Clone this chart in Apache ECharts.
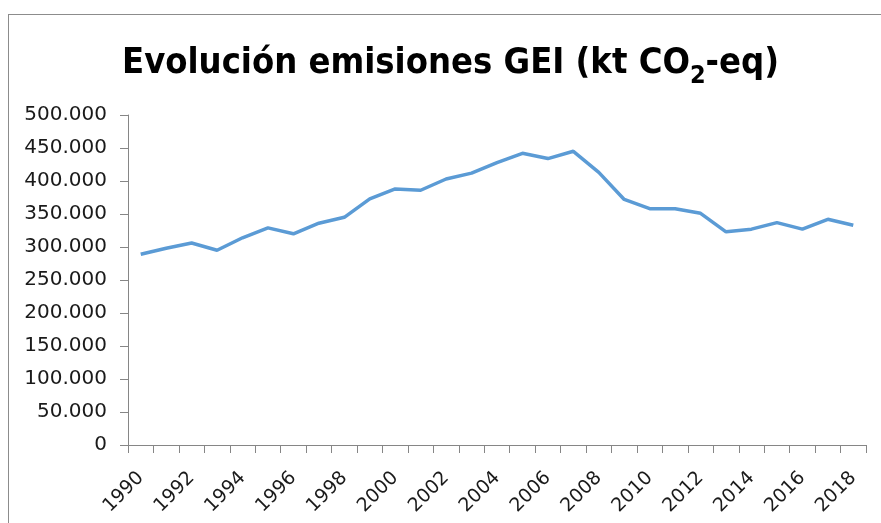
<!DOCTYPE html>
<html>
<head>
<meta charset="utf-8">
<script src="https://cdn.jsdelivr.net/npm/echarts@6/dist/echarts.min.js"></script>
<style>
  html, body { margin: 0; padding: 0; background: #fff; }
  #chart { position: absolute; left: 0; top: 0; width: 881px; height: 523px; }
  #frame { position: absolute; left: 8px; top: 14px; right: 0; bottom: 0;
           border-top: 1px solid #8c8c8c; border-left: 1px solid #8c8c8c; pointer-events: none; }
</style>
</head>
<body>
<div id="chart"></div>
<div id="frame"></div>
<script>
// years 1990-2018
var years = ['1990', '1991', '1992', '1993', '1994', '1995', '1996', '1997', '1998', '1999',
  '2000', '2001', '2002', '2003', '2004', '2005', '2006', '2007', '2008', '2009',
  '2010', '2011', '2012', '2013', '2014', '2015', '2016', '2017', '2018'];

// kt CO2-eq
var emisiones = [289000, 298000, 306000, 295000, 314000, 329000, 320000, 336000, 345000, 373000,
  388000, 386000, 403000, 412000, 428000, 442000, 434000, 445000, 413000, 372000,
  358000, 358000, 351000, 323000, 327000, 337000, 327000, 342000, 333000];

var yTicks = [0, 50000, 100000, 150000, 200000, 250000, 300000, 350000, 400000, 450000, 500000];

var chartDom = document.getElementById('chart');
var myChart = echarts.init(chartDom);
var option;

function fmtMiles(v) {
  if (v === 0) return '0';
  var s = String(v);
  return s.replace(/\B(?=(\d{3})+(?!\d))/g, '.');
}

option = {
  animation: false,
  title: {
    text: '{a|Evolución emisiones GEI (kt CO}{s|2}{a|-eq)}',
    left: 117,
    top: 37,
    textStyle: {
      rich: {
        a: { fontFamily: 'DejaVu Sans Condensed', fontWeight: 'bold', fontSize: 36, color: '#000', lineHeight: 44 },
        s: { fontFamily: 'DejaVu Sans Condensed', fontWeight: 'bold', fontSize: 25, color: '#000', lineHeight: 44, padding: [24, 0, 0, 0] }
      }
    }
  },
  grid: {
    left: 128,
    right: 15,
    top: 115,
    bottom: 78
  },
  xAxis: {
    type: 'category',
    data: years,
    boundaryGap: true,
    axisLine: { lineStyle: { color: '#868686', width: 1 } },
    axisTick: { show: true, length: 8, interval: 0, lineStyle: { color: '#868686' } },
    axisLabel: {
      interval: 1,
      rotate: 45,
      margin: 30,
      fontFamily: 'DejaVu Sans',
      fontSize: 19,
      color: '#1a1a1a'
    },
    splitLine: { show: false }
  },
  yAxis: {
    type: 'value',
    min: yTicks[0],
    max: yTicks[yTicks.length - 1],
    interval: 50000,
    axisLine: { show: true, lineStyle: { color: '#868686', width: 1 } },
    axisTick: { show: true, length: 8, lineStyle: { color: '#868686' } },
    axisLabel: {
      margin: 21,
      fontFamily: 'DejaVu Sans',
      fontSize: 20,
      color: '#1a1a1a',
      formatter: fmtMiles
    },
    splitLine: { show: false }
  },
  series: [
    {
      name: 'Emisiones GEI',
      type: 'line',
      data: emisiones,
      showSymbol: false,
      symbol: 'none',
      smooth: false,
      lineStyle: { color: '#5B9BD5', width: 3.5 },
      itemStyle: { color: '#5B9BD5' }
    }
  ]
};

option && myChart.setOption(option);
</script>
</body>
</html>
